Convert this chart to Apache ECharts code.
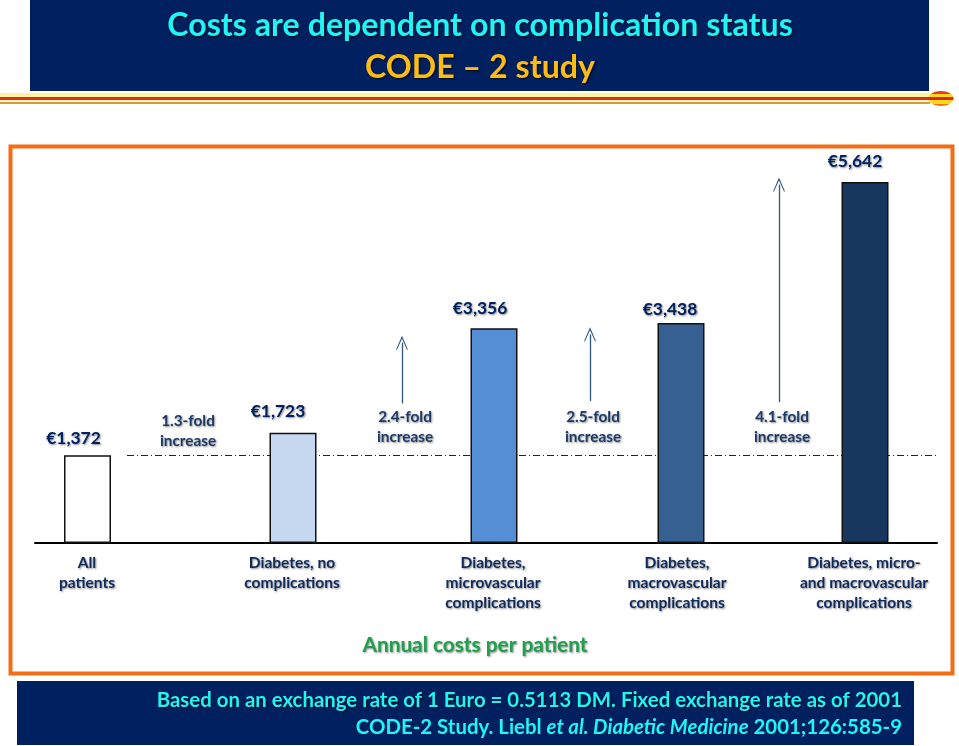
<!DOCTYPE html>
<html><head><meta charset="utf-8">
<script src="https://cdn.jsdelivr.net/npm/echarts@6/dist/echarts.min.js"></script>
<style>html,body{margin:0;padding:0;background:#fff}#c{width:959px;height:746px}</style>
</head><body><div id="c"></div>
<script>
const categories = ['All\npatients','Diabetes, no\ncomplications','Diabetes,\nmicrovascular\ncomplications','Diabetes,\nmacrovascular\ncomplications','Diabetes, micro-\nand macrovascular\ncomplications'];
const costs = [1372,1723,3356,3438,5642];
const costLabels = ['€1,372','€1,723','€3,356','€3,438','€5,642'];
const barSlots = [52.5,258,459,646,830];
const categorySlots = [52,257,458,642,829];
const barFills = ['#ffffff','#c6d9f1','#558ed5','#376092','#17375e'];
const foldLabels = ['1.3-fold\nincrease','2.4-fold\nincrease','2.5-fold\nincrease','4.1-fold\nincrease'];
const foldSlots = [153,370,558,747];
const arrowSlots = [367,555,744];
const arrowStarts = [2180,2220,2200];
const arrowEnds = [3130,3260,5600];
const labelOffsets = [[-14,-3],[-15,-8],[-14,-6],[-11,0],[-10,-7]];
const X_MAX = 902, Y_MAX = 6219;
const NAVY='#002060', INK='#0f2a5c';
const shadow={textShadowColor:'rgba(0,0,0,0.45)',textShadowBlur:2,textShadowOffsetX:1,textShadowOffsetY:1};
const font=(s)=>`bold ${s}px Lato`;
const text=(x,y,t,size,fill,extra)=>({type:'text',silent:true,x,y,style:Object.assign({text:t,fill,font:font(size),align:'center',verticalAlign:'middle'},shadow,extra||{})});
const rect=(x,y,w,h,st)=>({type:'rect',silent:true,shape:{x,y,width:w,height:h},style:st});
const chevron='path://M0,14 L6,0 L12,14 L11,14 L6,3 L1,14 Z';
const hardStops=(list)=>list.flatMap(([a,b,c])=>[{offset:a,color:c},{offset:b,color:c}]);

const chart=echarts.init(document.getElementById('c'));
chart.setOption({
  animation:false,
  backgroundColor:'#fff',
  grid:{left:35,top:145,width:902,height:398},
  xAxis:{type:'value',min:0,max:X_MAX,splitLine:{show:false},axisTick:{show:false},
    axisLine:{show:true,onZero:false,lineStyle:{color:'#000',width:2}},
    axisLabel:{show:true,customValues:categorySlots,margin:10,color:INK,fontFamily:'Lato',fontWeight:'bold',fontSize:15.5,lineHeight:20,align:'center',verticalAlign:'top',
      formatter:(v)=>categories[categorySlots.indexOf(v)]||'',...shadow}},
  yAxis:{type:'value',min:0,max:Y_MAX,show:false},
  series:[
    {type:'bar',barWidth:47,z:3,
      data:costs.map((v,i)=>({value:[barSlots[i],v],itemStyle:{color:barFills[i],borderColor:'#111',borderWidth:1.5},
        label:{show:true,position:'top',offset:labelOffsets[i],formatter:costLabels[i],color:NAVY,fontFamily:'Lato',fontWeight:'bold',fontSize:17.4,...shadow}})),
      markLine:{silent:true,symbol:'none',z:1,label:{show:false},
        lineStyle:{color:'#222',width:1,type:[7,3,1,3]},
        data:[[{coord:[92,costs[0]]},{coord:[X_MAX,costs[0]]}]]}},
    {type:'line',name:'arrows',silent:true,z:2,symbol:'none',data:[],
      markLine:{silent:true,symbol:['none',chevron],symbolSize:[12,14],label:{show:false},
        lineStyle:{color:'#2f5582',width:1.3,type:'solid'},
        data:arrowSlots.map((x,i)=>[{coord:[x,arrowStarts[i]]},{coord:[x,arrowEnds[i]]}])}}
  ],
  graphic:[
    rect(30,0,899,91,{fill:NAVY}),
    text(480,26,'Costs are dependent on complication status',32.2,'#1ff5f5',{textShadowColor:'rgba(0,0,0,0.8)'}),
    text(480,68,'CODE – 2 study',32.2,'#fbbc16',{textShadowColor:'rgba(0,0,0,0.8)'}),
    rect(0,93,930,4,{fill:'#fff2a0'}),
    rect(0,97,930,3,{fill:'#d8321a'}),
    rect(0,100,930,2,{fill:'#fff6c0'}),
    rect(0,102,930,2,{fill:'#d89a3a'}),
    {type:'ellipse',silent:true,shape:{cx:941,cy:98.5,rx:12.5,ry:7.5},style:{fill:new echarts.graphic.LinearGradient(0,0,0,1,hardStops([[0,0.2,'#e0401a'],[0.2,0.42,'#fbd51e'],[0.42,0.62,'#d8281a'],[0.62,0.85,'#fbd51e'],[0.85,1,'#e8791a']]))}},
    rect(10.5,146.5,942,527,{fill:'none',stroke:'#f26d14',lineWidth:4}),
    ...foldLabels.map((t,i)=>text(35+foldSlots[i],[431,427,427,427][i],t,15.3,'#1d3a68',{lineHeight:20})),
    text(475,645,'Annual costs per patient',20.8,'#1fa04d'),
    rect(17,681,897,64,{fill:NAVY}),
    text(902,700,'Based on an exchange rate of 1 Euro = 0.5113 DM. Fixed exchange rate as of 2001',20.4,'#1ff5f5',{align:'right',textShadowColor:'rgba(0,0,0,0.8)'}),
    {type:'text',silent:true,x:902,y:727,style:{text:'{a|CODE-2 Study. Liebl }{b|et al. Diabetic Medicine}{a| 2001;126:585-9}',align:'right',verticalAlign:'middle',
      rich:{a:{fill:'#1ff5f5',font:font(20.4)},b:{fill:'#1ff5f5',font:'italic bold 20.4px Lato'}}}}
  ]
});
</script></body></html>
